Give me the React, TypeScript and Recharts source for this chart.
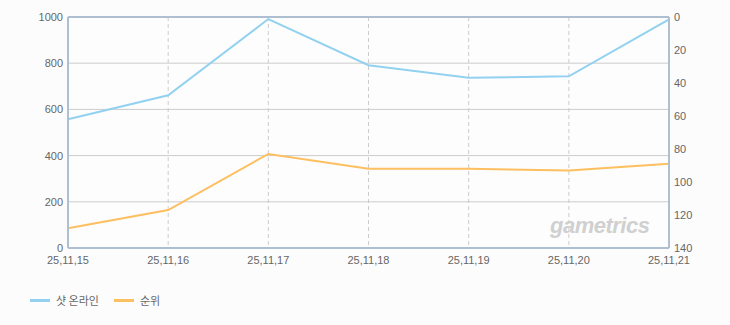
import React from "react";
import {
  LineChart,
  Line,
  XAxis,
  YAxis,
  CartesianGrid,
  ReferenceLine,
} from "recharts";

const dates = ["25,11,15", "25,11,16", "25,11,17", "25,11,18", "25,11,19", "25,11,20", "25,11,21"];
const shotOnline = [557, 661, 991, 791, 737, 743, 990];
const rank = [128, 117, 83, 92, 92, 93, 89];

const leftTicks = [0, 200, 400, 600, 800, 1000];
const rightTicks = [0, 20, 40, 60, 80, 100, 120, 140];

const data = dates.map((d, i) => ({ date: d, shot: shotOnline[i], rank: rank[i] }));

const BLUE = "#92d1f0";
const ORANGE = "#fdbf5f";
const FRAME = "#aebfd2";
const tickStyle = { fontSize: 11, fill: "#666", fontFamily: "Liberation Sans, Arial, sans-serif" };

export default function App() {
  return (
    <div style={{ position: "absolute", left: 0, top: 0, width: 730, height: 325, background: "#fcfcfc" }}>
      <LineChart width={730} height={325} data={data} margin={{ top: 17, right: 0, bottom: 57, left: 0 }}>
        <CartesianGrid yAxisId="left" vertical={false} stroke="#cccccc" fill="#fdfdfd" />
        <CartesianGrid yAxisId="left" horizontal={false} stroke="#cccccc" strokeDasharray="4 3" />
        <XAxis
          dataKey="date"
          interval={0}
          tickLine={false}
          tickSize={6}
          height={20}
          axisLine={{ stroke: FRAME, strokeWidth: 2 }}
          tick={tickStyle}
        />
        <YAxis
          yAxisId="left"
          domain={[0, 1000]}
          ticks={leftTicks}
          width={68}
          tickLine={false}
          tickSize={3}
          axisLine={{ stroke: FRAME, strokeWidth: 2 }}
          tick={tickStyle}
        />
        <YAxis
          yAxisId="right"
          orientation="right"
          reversed
          domain={[0, 140]}
          ticks={rightTicks}
          width={61}
          tickLine={false}
          tickSize={3}
          axisLine={{ stroke: FRAME, strokeWidth: 2 }}
          tick={{ ...tickStyle, textAnchor: "start" }}
        />
        <ReferenceLine yAxisId="left" y={1000} stroke={FRAME} strokeWidth={2} />
        <Line yAxisId="left" dataKey="shot" stroke={BLUE} strokeWidth={2} dot={false} isAnimationActive={false} />
        <Line yAxisId="right" dataKey="rank" stroke={ORANGE} strokeWidth={2} dot={false} isAnimationActive={false} />
      </LineChart>
      <div
        style={{
          position: "absolute",
          left: 550,
          top: 213,
          fontFamily: "Liberation Sans, Arial, sans-serif",
          fontSize: 22,
          fontWeight: "bold",
          fontStyle: "italic",
          color: "#d0d0d0",
          letterSpacing: -0.5,
        }}
      >
        gametrics
      </div>
      <div
        style={{
          position: "absolute",
          left: 30,
          top: 292,
          display: "flex",
          alignItems: "center",
          fontFamily: "'Noto Sans CJK KR', sans-serif",
          fontSize: 11,
          color: "#666",
        }}
      >
        <span style={{ width: 20, height: 3, background: BLUE, marginRight: 6 }} />
        <span style={{ marginRight: 15 }}>샷 온라인</span>
        <span style={{ width: 20, height: 3, background: ORANGE, marginRight: 6 }} />
        <span>순위</span>
      </div>
    </div>
  );
}
